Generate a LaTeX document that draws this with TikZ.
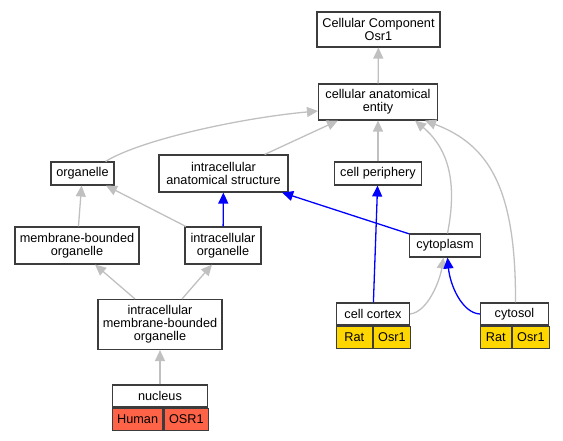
\documentclass[tikz,border=0pt]{standalone}
\usepackage{fontspec}
\setmainfont{Liberation Sans}
\usepackage{tikz}
\usetikzlibrary{arrows.meta, positioning}
\definecolor{edgegray}{HTML}{C0C0C0}
\definecolor{boxline}{HTML}{3C3C3C}
\definecolor{ratgold}{HTML}{FFD700}
\definecolor{humanred}{HTML}{FF6347}
\tikzstyle{term} = [rectangle, draw=boxline, line width=1.1pt, fill=white, align=center,
    font=\fontsize{12.7}{13}\selectfont, inner sep=2pt]
\tikzstyle{cell} = [term, minimum height=22pt]
\tikzstyle{isa} = [draw=edgegray, line width=1.3pt, -{Triangle[length=11pt, width=10pt]}]
\tikzstyle{partof} = [draw=blue, line width=1.3pt, -{Triangle[length=11pt, width=10pt]}]
\begin{document}
\begin{tikzpicture}[x=1pt, y=-1pt, on grid, auto]
      \useasboundingbox (0,0) rectangle (563,440);
      % Terms
      \node [term, minimum width=119pt, minimum height=36pt] (cae) at (378,102) {cellular anatomical\\entity};
      \node [term, minimum width=123pt, minimum height=35pt, above=72.5pt of cae, xshift=0.5pt] (cc) {Cellular Component\\Osr1};
      \node [term, minimum width=87pt, minimum height=23pt, below=71.5pt of cae] (periph) {cell periphery};
      \node [term, minimum width=129pt, minimum height=37pt, left=154.5pt of periph] (ias) {intracellular\\anatomical structure};
      \node [term, minimum width=63pt, minimum height=23pt, left=141pt of ias] (organelle) {organelle};
      \node [term, minimum width=76pt, minimum height=37pt, below=72pt of ias, xshift=-0.5pt] (io) {intracellular\\organelle};
      \node [term, minimum width=124pt, minimum height=37pt, below left=72pt and 5.5pt of organelle] (mbo) {membrane-bounded\\organelle};
      \node [term, minimum width=71pt, minimum height=23pt, below right=72pt and 67pt of periph] (cytoplasm) {cytoplasm};
      \node [term, minimum width=124pt, minimum height=50pt, below left=79pt and 63pt of io] (imbo) {intracellular\\membrane-bounded\\organelle};
      % Annotated terms
      \node [cell, minimum width=95.3pt, below=71.5pt of imbo] (nucleus) {nucleus};
      \node [cell, fill=humanred, minimum width=50.6pt, anchor=north west] (nucleushuman) at (nucleus.south west) {Human};
      \node [cell, fill=humanred, minimum width=44.7pt, anchor=north west] (nucleusgene) at (nucleushuman.north east) {OSR1};
      \node [cell, minimum width=73pt, below left=68.5pt and 72pt of cytoplasm] (cortex) {cell cortex};
      \node [cell, fill=ratgold, minimum width=35.7pt, anchor=north west] (cortexrat) at (cortex.south west) {Rat};
      \node [cell, fill=ratgold, minimum width=37.3pt, anchor=north west] (cortexgene) at (cortexrat.north east) {Osr1};
      \node [cell, minimum width=68pt, right=141.5pt of cortex] (cytosol) {cytosol};
      \node [cell, fill=ratgold, minimum width=30.7pt, anchor=north west] (cytosolrat) at (cytosol.south west) {Rat};
      \node [cell, fill=ratgold, minimum width=37.3pt, anchor=north west] (cytosolgene) at (cytosolrat.north east) {Osr1};
      % Draw edges
      \path [isa] (cae) -- (cc);
      \path [isa] ([xshift=-9pt]organelle.north east) .. controls (140,140) and (240,118) .. ([yshift=-9pt]cae.west);
      \path [isa] (ias) -- (cae);
      \path [isa] (periph) -- (cae);
      \path [isa] ([xshift=2.5pt]cytoplasm.north) .. controls (457,185) and (450,150) .. ([xshift=37pt]cae.south);
      \path [isa] ([xshift=1pt]cytosol.north) .. controls (516,190) and (490,145) .. ([xshift=47pt]cae.south);
      \path [partof] (io) -- (ias);
      \path [partof] (cytoplasm) -- (ias);
      \path [isa] (mbo) -- (organelle);
      \path [isa] (io) -- (organelle);
      \path [isa] ([xshift=-25pt]imbo.north) -- ([xshift=18pt]mbo.south);
      \path [isa] ([xshift=22pt]imbo.north) -- ([xshift=-11pt]io.south);
      \path [isa] (nucleus) -- (imbo);
      \path [partof] (cortex) -- (periph);
      \path [isa] (cortex.east) .. controls (428,312) and (440,280) .. ([xshift=-1.5pt]cytoplasm.south);
      \path [partof] (cytosol.west) .. controls (462,313) and (450,285) .. ([xshift=2.5pt]cytoplasm.south);
\end{tikzpicture}
\end{document}
